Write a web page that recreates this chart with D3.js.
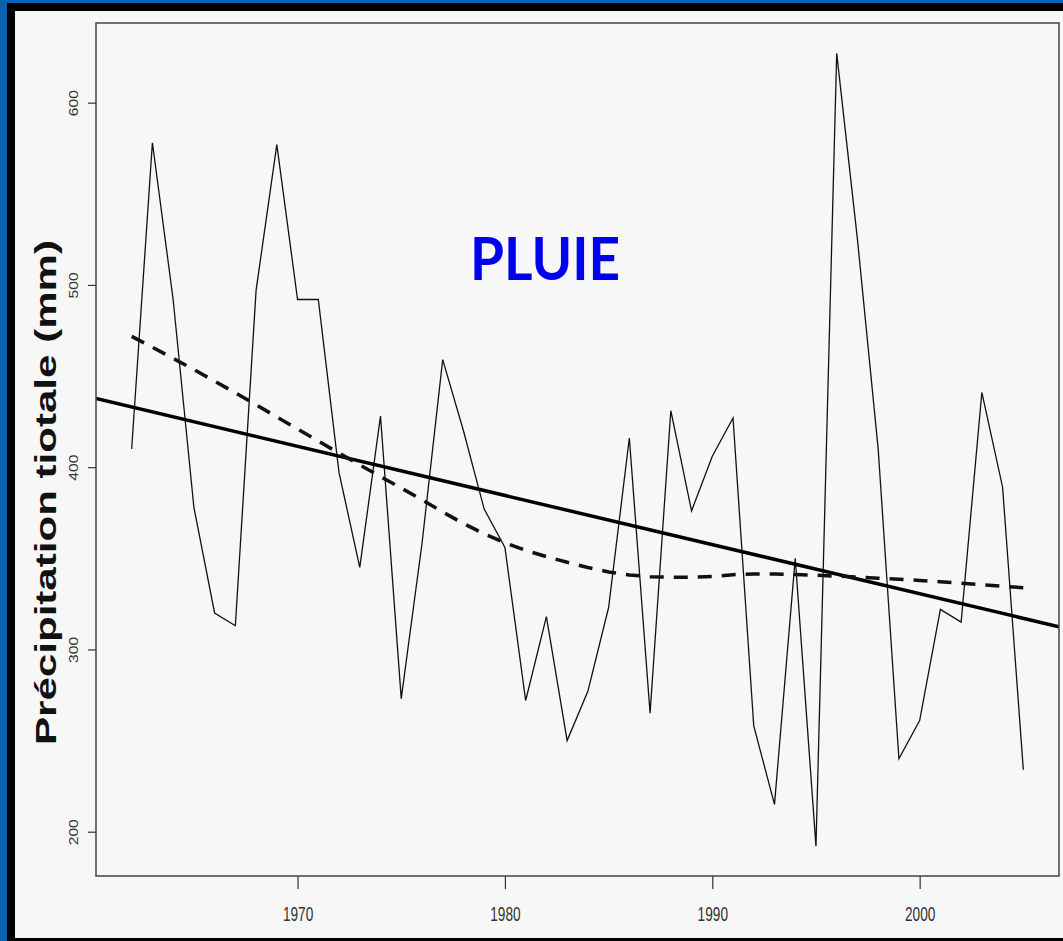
<!DOCTYPE html>
<html>
<head>
<meta charset="utf-8">
<script src="https://cdn.jsdelivr.net/npm/d3@7"></script>
<style>
  html, body { margin: 0; padding: 0; background: #f7f7f7; }
  svg { display: block; }
</style>
</head>
<body>
<svg id="chart" width="1063" height="941"></svg>
<script>
// Annual totals, 1962–2005
const years = d3.range(1962, 2006);
const rainfall = [
  410, 578, 492, 378, 320, 313, 497, 577, 492, 492,
  397, 345, 428, 273, 358, 459, 420, 377, 356, 272,
  318, 250, 277, 323, 416, 265, 431, 376, 406, 427,
  258, 215, 350, 192, 627, 525, 410, 240, 261, 322,
  315, 441, 389, 234
];
const yTicks = [200, 300, 400, 500, 600];
const xTicks = [1970, 1980, 1990, 2000];
const yDomain = [175.7, 643.7];
const yTitle = "Précipitation tiotale (mm)";
const label = "PLUIE";

// R-style lowess smoother (f = 2/3, 3 robustness iterations)
function lowest(x, y, xs, nleft, nright, userw, rw) {
  const n = x.length;
  const range = x[n - 1] - x[0];
  const h = Math.max(xs - x[nleft], x[nright] - xs);
  const h9 = 0.999 * h, h1 = 0.001 * h;
  const w = new Array(n).fill(0);
  let a = 0, j = nleft;
  while (j < n) {
    w[j] = 0;
    const r = Math.abs(x[j] - xs);
    if (r <= h9) {
      w[j] = r <= h1 ? 1 : Math.pow(1 - Math.pow(r / h, 3), 3);
      if (userw) w[j] *= rw[j];
      a += w[j];
    } else if (x[j] > xs) break;
    j++;
  }
  const nrt = j - 1;
  if (a <= 0) return null;
  for (j = nleft; j <= nrt; j++) w[j] /= a;
  if (h > 0) {
    a = 0;
    for (j = nleft; j <= nrt; j++) a += w[j] * x[j];
    let b = xs - a, c = 0;
    for (j = nleft; j <= nrt; j++) c += w[j] * (x[j] - a) * (x[j] - a);
    if (Math.sqrt(c) > 0.001 * range) {
      b /= c;
      for (j = nleft; j <= nrt; j++) w[j] *= (b * (x[j] - a) + 1);
    }
  }
  let ys = 0;
  for (j = nleft; j <= nrt; j++) ys += w[j] * y[j];
  return ys;
}

function lowess(x, y, f = 2 / 3, iters = 3) {
  const n = x.length;
  const ns = Math.max(2, Math.min(n, Math.floor(f * n + 1e-7)));
  const delta = 0.01 * (x[n - 1] - x[0]);
  const ys = new Array(n).fill(0), rw = new Array(n).fill(1), res = new Array(n).fill(0);
  for (let iter = 1; iter <= iters + 1; iter++) {
    let nleft = 0, nright = ns - 1, last = -1, i = 0;
    for (;;) {
      if (nright < n - 1) {
        const d1 = x[i] - x[nleft], d2 = x[nright + 1] - x[i];
        if (d1 > d2) { nleft++; nright++; continue; }
      }
      const v = lowest(x, y, x[i], nleft, nright, iter > 1, rw);
      ys[i] = v === null ? y[i] : v;
      if (last < i - 1) {
        const denom = x[i] - x[last];
        for (let j = last + 1; j < i; j++) {
          const alpha = (x[j] - x[last]) / denom;
          ys[j] = alpha * ys[i] + (1 - alpha) * ys[last];
        }
      }
      last = i;
      const cut = x[last] + delta;
      for (i = last + 1; i < n; i++) {
        if (x[i] > cut) break;
        if (x[i] === x[last]) { ys[i] = ys[last]; last = i; }
      }
      i = Math.max(last + 1, i - 1);
      if (last >= n - 1) break;
    }
    for (let k = 0; k < n; k++) res[k] = y[k] - ys[k];
    if (iter > iters) break;
    const ar = res.map(Math.abs).sort((p, q) => p - q);
    const m1 = Math.floor(n / 2);
    const cmad = n % 2 === 0 ? 3 * (ar[m1] + ar[m1 - 1]) : 6 * ar[m1];
    if (cmad < 1e-7) break;
    const c9 = 0.999 * cmad, c1 = 0.001 * cmad;
    for (let k = 0; k < n; k++) {
      const r = Math.abs(res[k]);
      rw[k] = r <= c1 ? 1 : r > c9 ? 0 : Math.pow(1 - Math.pow(r / cmad, 2), 2);
    }
  }
  return ys;
}

// Least-squares trend
const mx = d3.mean(years), my = d3.mean(rainfall);
let sxy = 0, sxx = 0;
years.forEach((t, i) => { sxy += (t - mx) * (rainfall[i] - my); sxx += (t - mx) * (t - mx); });
const slope = sxy / sxx, intercept = my - slope * mx;

const smooth = lowess(years, rainfall);

const svg = d3.select("#chart");
const W = 1063, H = 941;
const plot = { left: 96, top: 23, right: 1059, bottom: 876 };

// Frame: blue edge, black band, light panel
svg.append("rect").attr("x", 0).attr("y", 0).attr("width", W).attr("height", H).attr("fill", "#0563b0");
svg.append("rect").attr("x", 7).attr("y", 3).attr("width", W - 7).attr("height", H - 3).attr("fill", "#000");
svg.append("rect").attr("x", 15).attr("y", 11).attr("width", W - 15).attr("height", 927).attr("fill", "#f7f7f7");

const xPad = 0.04 * (years[years.length - 1] - years[0]);
const x = d3.scaleLinear()
  .domain([years[0] - xPad, years[years.length - 1] + xPad])
  .range([plot.left, plot.right]);
const y = d3.scaleLinear().domain(yDomain).range([plot.bottom, plot.top]);

svg.append("clipPath").attr("id", "plotClip")
  .append("rect")
  .attr("x", plot.left).attr("y", plot.top)
  .attr("width", plot.right - plot.left).attr("height", plot.bottom - plot.top);

const g = svg.append("g").attr("clip-path", "url(#plotClip)");

// Yearly series
g.append("path")
  .datum(years.map((t, i) => [t, rainfall[i]]))
  .attr("fill", "none")
  .attr("stroke", "#111")
  .attr("stroke-width", 1.3)
  .attr("stroke-linejoin", "miter")
  .attr("d", d3.line().x(d => x(d[0])).y(d => y(d[1])));

// Linear trend across the whole panel
const xd = x.domain();
g.append("path")
  .datum(xd.map(t => [t, intercept + slope * t]))
  .attr("fill", "none")
  .attr("stroke", "#000")
  .attr("stroke-width", 3.5)
  .attr("d", d3.line().x(d => x(d[0])).y(d => y(d[1])));

// Lowess curve
g.append("path")
  .datum(years.map((t, i) => [t, smooth[i]]))
  .attr("fill", "none")
  .attr("stroke", "#111")
  .attr("stroke-width", 3.5)
  .attr("stroke-dasharray", "14,10")
  .attr("d", d3.line().x(d => x(d[0])).y(d => y(d[1])));

// Panel box
svg.append("rect")
  .attr("x", plot.left).attr("y", plot.top)
  .attr("width", plot.right - plot.left).attr("height", plot.bottom - plot.top)
  .attr("fill", "none").attr("stroke", "#444").attr("stroke-width", 1.5);

const tickFont = "'Liberation Sans', Arial, sans-serif";

// Left axis
const gy = svg.append("g").attr("transform", `translate(${plot.left},0)`)
  .call(d3.axisLeft(y).tickValues(yTicks).tickSize(8).tickFormat(d3.format("d")));
gy.select(".domain").remove();
gy.selectAll(".tick line").attr("stroke", "#333").attr("stroke-width", 1.2);
gy.selectAll(".tick text")
  .attr("x", null).attr("dy", null)
  .attr("transform", "translate(-18,0) rotate(-90)")
  .attr("text-anchor", "middle")
  .attr("font-family", tickFont)
  .attr("font-size", 13)
  .attr("fill", "#333")
  .attr("textLength", 26)
  .attr("lengthAdjust", "spacingAndGlyphs");

// Bottom axis
const gx = svg.append("g").attr("transform", `translate(0,${plot.bottom})`)
  .call(d3.axisBottom(x).tickValues(xTicks).tickSize(13).tickFormat(d3.format("d")));
gx.select(".domain").remove();
gx.selectAll(".tick line").attr("stroke", "#333").attr("stroke-width", 1.2);
gx.selectAll(".tick text")
  .attr("y", null).attr("dy", null)
  .attr("transform", "translate(0,45) scale(1.05,1.6)")
  .attr("text-anchor", "middle")
  .attr("font-family", tickFont)
  .attr("font-size", 13)
  .attr("fill", "#333");

// Axis title
svg.append("text")
  .attr("transform", `translate(56,${(240 + 745) / 2}) rotate(-90)`)
  .attr("text-anchor", "middle")
  .attr("font-family", "'Liberation Sans', Arial, sans-serif")
  .attr("font-weight", "bold")
  .attr("font-size", 29)
  .attr("fill", "#111")
  .attr("textLength", 505)
  .attr("lengthAdjust", "spacingAndGlyphs")
  .text(yTitle);

// Blue tag
svg.append("text")
  .attr("x", 470)
  .attr("y", 279.5)
  .attr("font-family", "Lato, 'Open Sans', sans-serif")
  .attr("font-weight", "bold")
  .attr("font-size", 60)
  .attr("fill", "#0000f0")
  .attr("textLength", 150)
  .attr("lengthAdjust", "spacingAndGlyphs")
  .text(label);
</script>
</body>
</html>
